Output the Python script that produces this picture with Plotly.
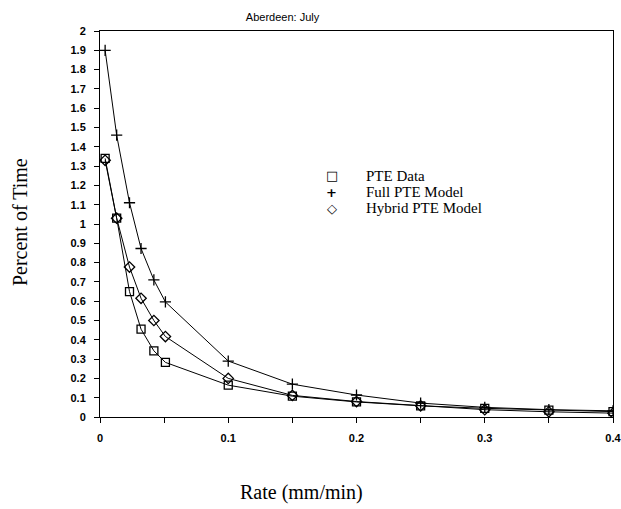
import plotly.graph_objects as go

rate = [0.004, 0.013, 0.023, 0.032, 0.042, 0.051, 0.1, 0.15, 0.2, 0.25, 0.3, 0.35, 0.4]
pte_data = [1.34, 1.03, 0.65, 0.455, 0.343, 0.283, 0.165, 0.108, 0.078, 0.058, 0.045, 0.036, 0.028]
full_model = [1.90, 1.46, 1.11, 0.873, 0.71, 0.596, 0.29, 0.17, 0.114, 0.072, 0.05, 0.038, 0.032]
hybrid_model = [1.33, 1.03, 0.777, 0.615, 0.50, 0.417, 0.20, 0.112, 0.08, 0.058, 0.038, 0.027, 0.02]

x_ticks = [0, 0.05, 0.1, 0.15, 0.2, 0.25, 0.3, 0.35, 0.4]
x_labels = ["0", "", "0.1", "", "0.2", "", "0.3", "", "0.4"]
y_ticks = [i / 10 for i in range(21)]
y_labels = ["0", "0.1", "0.2", "0.3", "0.4", "0.5", "0.6", "0.7", "0.8", "0.9", "1",
            "1.1", "1.2", "1.3", "1.4", "1.5", "1.6", "1.7", "1.8", "1.9", "2"]

series_names = ["PTE Data", "Full PTE Model", "Hybrid PTE Model"]
series_values = [pte_data, full_model, hybrid_model]
series_symbols = ["square-open", "cross-thin-open", "diamond-open"]
legend_glyphs = ["\u25a1", "+", "\u25c7"]

serif = "Liberation Serif"
sans = "Liberation Sans"

fig = go.Figure()
for name, vals, sym in zip(series_names, series_values, series_symbols):
    fig.add_trace(go.Scatter(
        x=rate, y=vals, mode="lines+markers", name=name, showlegend=False,
        line=dict(color="black", width=1),
        marker=dict(symbol=sym, size=8, color="black", line=dict(color="black", width=1.3)),
    ))

annotations = [
    dict(text="Rate (mm/min)", xref="paper", yref="paper", x=0.392, y=0,
         xanchor="center", yanchor="middle", yshift=-75, showarrow=False,
         font=dict(family=serif, size=20, color="black")),
    dict(text="Percent of Time", xref="paper", yref="paper", x=0, y=0.505,
         xanchor="center", yanchor="middle", xshift=-80, textangle=-90, showarrow=False,
         font=dict(family=serif, size=20, color="black")),
]
for i, (name, glyph) in enumerate(zip(series_names, legend_glyphs)):
    ypos = 0.6244 - i * 0.0415
    annotations.append(dict(text=glyph, xref="paper", yref="paper", x=0.452, y=ypos,
                            xanchor="center", yanchor="middle", showarrow=False,
                            font=dict(family="DejaVu Sans", size=13, color="black", weight="bold")))
    annotations.append(dict(text=name, xref="paper", yref="paper", x=0.5146, y=ypos,
                            xanchor="left", yanchor="middle", showarrow=False,
                            font=dict(family=serif, size=15, color="black")))

fig.update_layout(
    width=621, height=509,
    margin=dict(l=100, r=8, t=31, b=92),
    paper_bgcolor="white", plot_bgcolor="white",
    title=dict(text="Aberdeen: July", x=0.455, xanchor="center", y=0.967, yanchor="middle",
               font=dict(family=sans, size=11, color="black")),
    showlegend=False,
    xaxis=dict(range=[0, 0.4], tickvals=x_ticks, ticktext=x_labels,
               ticks="outside", ticklen=5, tickcolor="black", showgrid=False, zeroline=False,
               showline=True, linecolor="black", linewidth=1, mirror=True,
               ticklabelstandoff=6, ticklabeloverflow="allow", automargin=False,
               tickfont=dict(family=sans, size=11, color="black", weight="bold")),
    yaxis=dict(range=[0, 2], tickvals=y_ticks, ticktext=y_labels,
               ticks="outside", ticklen=5, tickcolor="black", showgrid=False, zeroline=False,
               showline=True, linecolor="black", linewidth=1, mirror=True,
               ticklabelstandoff=6, automargin=False,
               tickfont=dict(family=sans, size=11, color="black", weight="bold")),
    annotations=annotations,
)

fig.write_html("out.html")
